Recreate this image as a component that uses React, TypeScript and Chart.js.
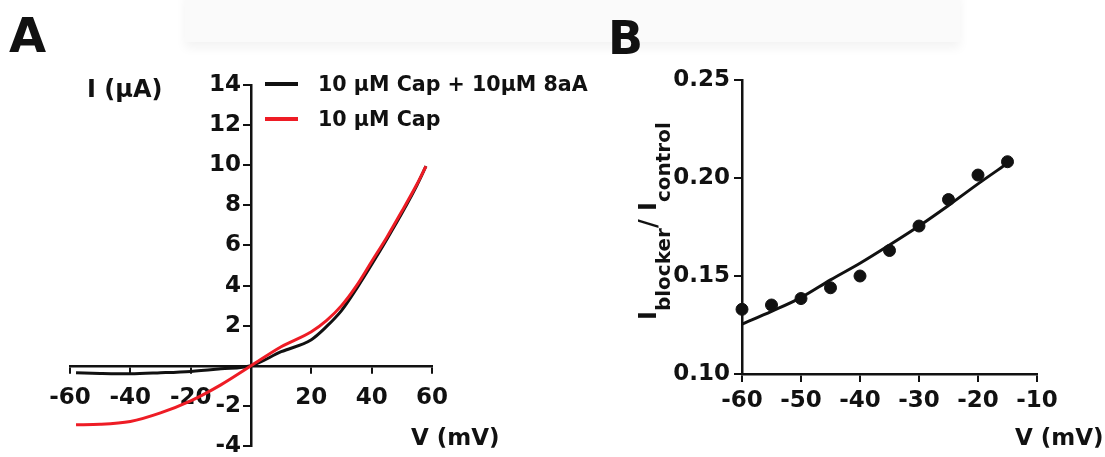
import React, { useEffect, useRef } from 'react';
import { Chart, registerables } from 'chart.js';

Chart.register(...registerables);

// ---- Panel A data (I–V curves) ----
const ivVoltage = [-58, -50, -40, -30, -20, -10, 0, 10, 20, 25, 30, 35, 40, 45, 50, 55, 58];
const capBlockerCurrent = [-0.35, -0.38, -0.4, -0.35, -0.28, -0.15, 0, 0.7, 1.3, 1.95, 2.75, 3.85, 5.05, 6.3, 7.6, 9.0, 9.95];
const capCurrent = [-2.94, -2.92, -2.78, -2.35, -1.75, -0.95, 0, 0.95, 1.7, 2.25, 3.0, 4.0, 5.2, 6.4, 7.7, 9.05, 9.95];
const ivSeriesLabels = ['10 μM Cap + 10μM 8aA', '10 μM Cap'];
const ivXTicks = [-60, -40, -20, 0, 20, 40, 60];
const ivYTicks = [-4, -2, 0, 2, 4, 6, 8, 10, 12, 14];

// ---- Panel B data (ratio vs voltage) ----
const ratioVoltage = [-60, -55, -50, -45, -40, -35, -30, -25, -20, -15];
const ratioValues = [0.133, 0.1352, 0.1385, 0.144, 0.15, 0.163, 0.1755, 0.189, 0.2015, 0.2083];
const ratioFit = [0.1255, 0.132, 0.139, 0.148, 0.1565, 0.1658, 0.1755, 0.186, 0.197, 0.2075];
const ratioXTicks = [-60, -50, -40, -30, -20, -10];
const ratioYTicks = [0.1, 0.15, 0.2, 0.25];

const FONT = "'DejaVu Sans', sans-serif";
const INK = '#111111';
const RED = '#ee1c25';

function txt(ctx: CanvasRenderingContext2D, s: string, x: number, y: number, size: number, align: CanvasTextAlign = 'left') {
  ctx.save();
  ctx.font = `bold ${size}px ${FONT}`;
  ctx.fillStyle = INK;
  ctx.textAlign = align;
  ctx.textBaseline = 'alphabetic';
  ctx.fillText(s, x, y);
  ctx.restore();
}

const tickFont = { family: FONT, size: 23, weight: 'bold' as const };

function noPad(s: any) {
  s.paddingLeft = 0;
  s.paddingRight = 0;
  s.paddingTop = 0;
  s.paddingBottom = 0;
}

// Move the y axis to x = 0 and the x axis to y = 0 (axes crossing at the origin)
const crossAxesAtZero = {
  id: 'crossAxesAtZero',
  afterLayout(chart: any) {
    const xs = chart.scales.x;
    const ys = chart.scales.y;
    const x0 = xs.getPixelForValue(0);
    const y0 = ys.getPixelForValue(0);
    ys.right = x0;
    ys.left = x0 - 90;
    xs.top = y0;
    xs.bottom = y0 + 70;
  },
};

const panelAText = {
  id: 'panelAText',
  afterDraw(chart: any) {
    const ctx = chart.ctx as CanvasRenderingContext2D;
    txt(ctx, 'A', 9, 52, 48);
    txt(ctx, 'I (μA)', 87, 97, 24);
    txt(ctx, 'V (mV)', 411, 445, 23);
    const rows = [84, 119];
    chart.data.datasets.forEach((ds: any, i: number) => {
      ctx.save();
      ctx.strokeStyle = ds.borderColor;
      ctx.lineWidth = 4;
      ctx.beginPath();
      ctx.moveTo(265, rows[i]);
      ctx.lineTo(298, rows[i]);
      ctx.stroke();
      ctx.restore();
      txt(ctx, ds.label, 318, rows[i] + 7, 20.6);
    });
  },
};

const panelBText = {
  id: 'panelBText',
  afterDraw(chart: any) {
    const ctx = chart.ctx as CanvasRenderingContext2D;
    txt(ctx, 'B', 8, 54, 46);
    txt(ctx, 'V (mV)', 415, 445, 23);
    // rotated y title: I_blocker/ I_control
    ctx.save();
    ctx.translate(56, 320);
    ctx.rotate(-Math.PI / 2);
    ctx.fillStyle = INK;
    ctx.textBaseline = 'alphabetic';
    const main = `bold 24px ${FONT}`;
    const sub = `bold 20px ${FONT}`;
    let x = 0;
    const parts: [string, boolean][] = [['I', false], ['blocker', true], ['/ I', false], ['control', true]];
    parts.forEach(([s, isSub]) => {
      ctx.font = isSub ? sub : main;
      ctx.fillText(s, x, isSub ? 14 : 0);
      x += ctx.measureText(s).width;
    });
    ctx.restore();
  },
};

export default function App() {
  const refA = useRef<HTMLCanvasElement>(null);
  const refB = useRef<HTMLCanvasElement>(null);

  useEffect(() => {
    const chartA = new Chart(refA.current!, {
      type: 'line',
      data: {
        datasets: [
          {
            label: ivSeriesLabels[0],
            data: ivVoltage.map((v, i) => ({ x: v, y: capBlockerCurrent[i] })),
            borderColor: INK,
            borderWidth: 3,
            pointRadius: 0,
            cubicInterpolationMode: 'monotone',
            order: 1,
            clip: false as any,
          },
          {
            label: ivSeriesLabels[1],
            data: ivVoltage.map((v, i) => ({ x: v, y: capCurrent[i] })),
            borderColor: RED,
            borderWidth: 3,
            pointRadius: 0,
            cubicInterpolationMode: 'monotone',
            order: 0,
            clip: false as any,
          },
        ],
      },
      options: {
        animation: false,
        responsive: true,
        maintainAspectRatio: false,
        layout: { padding: { left: 70, right: 168, top: 85, bottom: 11 } },
        plugins: { legend: { display: false }, tooltip: { enabled: false } },
        scales: {
          x: {
            type: 'linear',
            min: -60,
            max: 60,
            position: 'bottom',
            afterBuildTicks: (s: any) => { s.ticks = ivXTicks.map((v) => ({ value: v })); },
            afterFit: (s: any) => { s.height = 0; noPad(s); },
            ticks: { callback: (v: any) => (v === 0 ? '' : String(v)), font: tickFont, color: INK, padding: 10, autoSkip: false, maxRotation: 0 },
            grid: { drawOnChartArea: false, drawTicks: true, tickLength: 8, color: INK, lineWidth: 2 },
            border: { display: true, color: INK, width: 2.5 },
          },
          y: {
            type: 'linear',
            min: -4,
            max: 14,
            position: 'left',
            afterBuildTicks: (s: any) => { s.ticks = ivYTicks.map((v) => ({ value: v })); },
            afterFit: (s: any) => { s.width = 0; noPad(s); },
            ticks: { callback: (v: any) => (v === 0 ? '' : String(v)), font: tickFont, color: INK, padding: 2, autoSkip: false },
            grid: { drawOnChartArea: false, drawTicks: true, tickLength: 8, color: INK, lineWidth: 2 },
            border: { display: true, color: INK, width: 2.5 },
          },
        },
      },
      plugins: [crossAxesAtZero, panelAText],
    });

    const chartB = new Chart(refB.current!, {
      type: 'line',
      data: {
        datasets: [
          {
            label: 'data',
            data: ratioVoltage.map((v, i) => ({ x: v, y: ratioValues[i] })),
            showLine: false,
            pointRadius: 6,
            pointBackgroundColor: INK,
            pointBorderColor: INK,
            borderColor: INK,
            clip: false as any,
          },
          {
            label: 'fit',
            data: ratioVoltage.map((v, i) => ({ x: v, y: ratioFit[i] })),
            borderColor: INK,
            borderWidth: 3,
            pointRadius: 0,
            cubicInterpolationMode: 'monotone',
            clip: false as any,
          },
        ],
      },
      options: {
        animation: false,
        responsive: true,
        maintainAspectRatio: false,
        layout: { padding: { left: 0, right: 68, top: 80, bottom: 0 } },
        plugins: { legend: { display: false }, tooltip: { enabled: false } },
        scales: {
          x: {
            type: 'linear',
            min: -60,
            max: -10,
            position: 'bottom',
            afterBuildTicks: (s: any) => { s.ticks = ratioXTicks.map((v) => ({ value: v })); },
            afterFit: (s: any) => { s.height = 83; noPad(s); },
            ticks: { font: tickFont, color: INK, padding: 5, autoSkip: false, maxRotation: 0 },
            grid: { drawOnChartArea: false, drawTicks: true, tickLength: 8, color: INK, lineWidth: 2 },
            border: { display: true, color: INK, width: 2.5 },
          },
          y: {
            type: 'linear',
            min: 0.1,
            max: 0.25,
            position: 'left',
            afterBuildTicks: (s: any) => { s.ticks = ratioYTicks.map((v) => ({ value: v })); },
            afterFit: (s: any) => { s.width = 142; noPad(s); },
            ticks: { callback: (v: any) => Number(v).toFixed(2), font: tickFont, color: INK, padding: 4, autoSkip: false },
            grid: { drawOnChartArea: false, drawTicks: true, tickLength: 8, color: INK, lineWidth: 2 },
            border: { display: true, color: INK, width: 2.5 },
          },
        },
      },
      plugins: [panelBText],
    });

    return () => {
      chartA.destroy();
      chartB.destroy();
    };
  }, []);

  return (
    <div style={{ position: 'absolute', left: 0, top: 0, width: 1105, height: 457, background: '#ffffff', overflow: 'hidden' }}>
      <div
        style={{
          position: 'absolute',
          left: 185,
          top: -10,
          width: 775,
          height: 52,
          background: '#fafafa',
          boxShadow: '0 6px 10px rgba(0,0,0,0.05)',
        }}
      />
      <div style={{ position: 'absolute', left: 0, top: 0, width: 600, height: 457 }}>
        <canvas ref={refA} />
      </div>
      <div style={{ position: 'absolute', left: 600, top: 0, width: 505, height: 457 }}>
        <canvas ref={refB} />
      </div>
    </div>
  );
}
